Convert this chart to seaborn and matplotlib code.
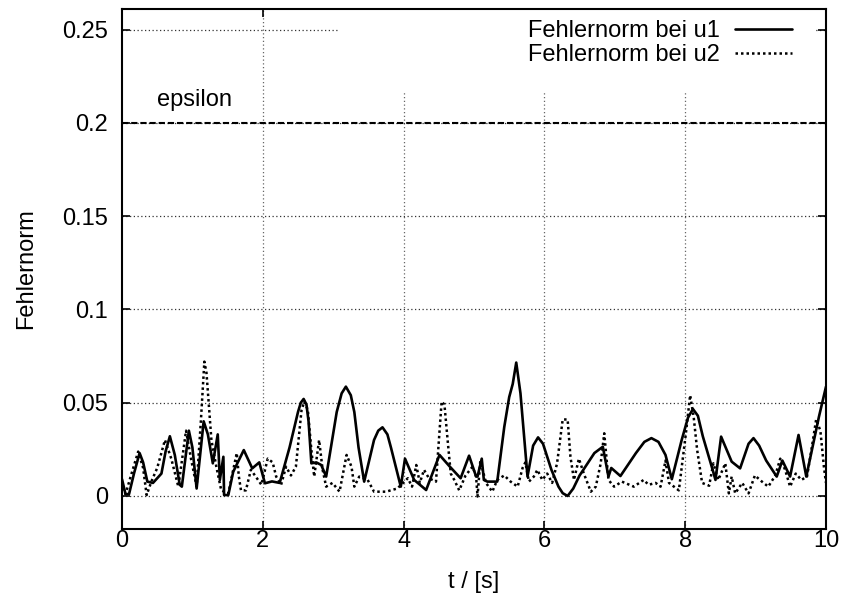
import matplotlib
matplotlib.use("Agg")
import matplotlib.pyplot as plt
from matplotlib.patches import Rectangle
import numpy as np
import pandas as pd
import seaborn as sns

# ---------------- data ----------------
t_u1 = [0.0, 0.05, 0.1, 0.17, 0.25, 0.3, 0.36, 0.44, 0.56, 0.62, 0.68, 0.75, 0.82, 0.85,
        0.95, 1.0, 1.06, 1.16, 1.22, 1.29, 1.36, 1.39, 1.44, 1.45, 1.51, 1.58, 1.73, 1.85,
        1.95, 2.03, 2.13, 2.24, 2.38, 2.5, 2.54, 2.58, 2.62, 2.65, 2.69, 2.76, 2.83, 2.9,
        3.05, 3.12, 3.18, 3.25, 3.3, 3.36, 3.44, 3.58, 3.64, 3.7, 3.77, 3.82, 3.96, 4.02,
        4.15, 4.32, 4.51, 4.65, 4.81, 4.93, 5.03, 5.05, 5.11, 5.14, 5.19, 5.33, 5.43, 5.5,
        5.55, 5.6, 5.66, 5.76, 5.84, 5.91, 5.98, 6.1, 6.2, 6.26, 6.33, 6.41, 6.5, 6.71,
        6.83, 6.91, 6.95, 7.08, 7.3, 7.42, 7.52, 7.62, 7.72, 7.81, 7.95, 8.04, 8.11, 8.18,
        8.25, 8.39, 8.43, 8.51, 8.66, 8.78, 8.9, 8.97, 9.05, 9.15, 9.3, 9.38, 9.49, 9.61,
        9.72, 9.9, 10.0]
e_u1 = [0.009, 0.001, 0.001, 0.012, 0.023, 0.018, 0.0077, 0.007, 0.012, 0.024, 0.032, 0.022,
        0.006, 0.005, 0.035, 0.026, 0.004, 0.040, 0.033, 0.0175, 0.033, 0.0086, 0.021, 0.0005,
        0.0005, 0.013, 0.0246, 0.0148, 0.018, 0.0068, 0.0078, 0.007, 0.026, 0.045, 0.050,
        0.052, 0.049, 0.040, 0.0175, 0.018, 0.0166, 0.0104, 0.045, 0.055, 0.0586, 0.054,
        0.045, 0.026, 0.0077, 0.030, 0.035, 0.0368, 0.033, 0.026, 0.005, 0.020, 0.0086,
        0.0032, 0.022, 0.016, 0.0095, 0.0216, 0.0104, 0.0104, 0.020, 0.0086, 0.0077, 0.0077,
        0.037, 0.053, 0.060, 0.0715, 0.055, 0.0104, 0.027, 0.0314, 0.028, 0.014, 0.005,
        0.0015, 0.0, 0.004, 0.011, 0.023, 0.0264, 0.0104, 0.015, 0.0107, 0.023, 0.029,
        0.031, 0.029, 0.022, 0.009, 0.030, 0.042, 0.0466, 0.043, 0.032, 0.014, 0.0086,
        0.0318, 0.0184, 0.0148, 0.028, 0.031, 0.027, 0.019, 0.0104, 0.019, 0.0104, 0.0327,
        0.0104, 0.0425, 0.0586]

t_u2 = [0.0, 0.05, 0.12, 0.23, 0.3, 0.35, 0.42, 0.5, 0.61, 0.7, 0.8, 0.91, 0.98, 1.06, 1.12,
        1.17, 1.2, 1.27, 1.34, 1.41, 1.51, 1.63, 1.66, 1.69, 1.76, 1.83, 1.9, 1.98, 2.07,
        2.14, 2.19, 2.26, 2.33, 2.4, 2.47, 2.55, 2.59, 2.64, 2.69, 2.73, 2.8, 2.85, 2.9,
        2.99, 3.09, 3.19, 3.26, 3.3, 3.37, 3.49, 3.58, 3.75, 3.91, 4.06, 4.12, 4.18, 4.23,
        4.29, 4.36, 4.46, 4.54, 4.58, 4.63, 4.67, 4.72, 4.79, 4.88, 4.98, 5.03, 5.05, 5.09,
        5.17, 5.26, 5.33, 5.43, 5.52, 5.62, 5.69, 5.73, 5.78, 5.85, 5.9, 5.97, 6.04, 6.11,
        6.18, 6.26, 6.33, 6.37, 6.42, 6.49, 6.56, 6.66, 6.73, 6.8, 6.85, 6.91, 6.99, 7.1,
        7.27, 7.41, 7.48, 7.58, 7.65, 7.72, 7.77, 7.84, 7.91, 8.01, 8.07, 8.12, 8.17, 8.24,
        8.34, 8.4, 8.47, 8.57, 8.62, 8.66, 8.71, 8.81, 8.9, 8.99, 9.09, 9.18, 9.28, 9.35,
        9.42, 9.49, 9.57, 9.65, 9.73, 9.8, 9.86, 9.92, 9.97, 10.0]
e_u2 = [0.004, 0.001, 0.01, 0.0238, 0.015, 0.0005, 0.008, 0.015, 0.030, 0.02, 0.005, 0.035,
        0.02, 0.005, 0.04, 0.072, 0.066, 0.030, 0.0157, 0.003, 0.0014, 0.023, 0.0104, 0.003,
        0.003, 0.014, 0.0104, 0.006, 0.020, 0.018, 0.0104, 0.006, 0.0157, 0.011, 0.0157,
        0.046, 0.0506, 0.046, 0.0246, 0.0104, 0.030, 0.014, 0.005, 0.007, 0.0023, 0.022,
        0.0157, 0.005, 0.0104, 0.0086, 0.0023, 0.0023, 0.004, 0.0095, 0.005, 0.0166, 0.007,
        0.014, 0.0095, 0.0077, 0.0506, 0.049, 0.028, 0.012, 0.0086, 0.003, 0.011, 0.0157,
        0.0104, -0.0003, 0.019, 0.007, 0.0023, 0.0086, 0.011, 0.0077, 0.005, 0.015, 0.018,
        0.0077, 0.0104, 0.014, 0.0086, 0.012, 0.007, 0.0175, 0.041, 0.041, 0.021, 0.0086,
        0.020, 0.012, 0.0023, 0.005, 0.0175, 0.0336, 0.0086, 0.005, 0.0077, 0.005, 0.0086,
        0.006, 0.007, 0.005, 0.019, 0.007, 0.005, 0.003, 0.0336, 0.054, 0.0425, 0.0246,
        0.007, 0.0055, 0.0175, 0.0086, 0.0175, 0.0014, 0.0104, 0.0014, 0.007, 0.0014, 0.011,
        0.0077, 0.005, 0.011, 0.020, 0.014, 0.005, 0.012, 0.0086, 0.0104, 0.0264, 0.041,
        0.035, 0.0157, 0.007]

epsilon = 0.2
epsilon_label = "epsilon"
series_labels = ["Fehlernorm bei u1", "Fehlernorm bei u2"]
x_ticks = [0, 2, 4, 6, 8, 10]
x_tick_labels = ["0", "2", "4", "6", "8", "10"]
y_ticks = [0, 0.05, 0.1, 0.15, 0.2, 0.25]
y_tick_labels = ["0", "0.05", "0.1", "0.15", "0.2", "0.25"]

# ---------------- style ----------------
sns.set_theme(style="white")
plt.rcParams["font.family"] = ["Liberation Sans", "DejaVu Sans"]
plt.rcParams["text.color"] = "black"
plt.rcParams["axes.labelcolor"] = "black"
plt.rcParams["xtick.color"] = "black"
plt.rcParams["ytick.color"] = "black"
FS = 17

fig = plt.figure(figsize=(8.44, 5.93), dpi=100)
ax = fig.add_axes([122 / 844, 1 - 529 / 593, (826 - 122) / 844, (529 - 9) / 593])
ax.set_facecolor("white")

df1 = pd.DataFrame({"t": t_u1, "e": e_u1})
df2 = pd.DataFrame({"t": t_u2, "e": e_u2})

sns.lineplot(data=df1, x="t", y="e", ax=ax, color="black", linewidth=1.9,
             label=series_labels[0], zorder=3, sort=False)
sns.lineplot(data=df2, x="t", y="e", ax=ax, color="black", linewidth=1.8,
             linestyle=(0, (1, 1.2)), label=series_labels[1], zorder=3, sort=False)

ax.axhline(epsilon, color="black", linewidth=1.5, linestyle=(0, (3, 1.4)), zorder=3)
ax.text(0.5, epsilon + 0.012, epsilon_label, fontsize=FS, va="center", ha="left",
        color="black", zorder=4)

ax.set_xlim(0, 10)
ax.set_ylim(-0.0177, 0.261)
ax.set_xticks(x_ticks)
ax.set_xticklabels(x_tick_labels)
ax.set_yticks(y_ticks)
ax.set_yticklabels(y_tick_labels)

# grid drawn from tick positions, kept below a white key area
for xv in x_ticks[1:-1]:
    ax.axvline(xv, color="#666666", linewidth=0.9, linestyle=(0, (1, 2)), zorder=0.3)
for yv in y_ticks:
    ax.axhline(yv, color="#333333", linewidth=0.9, linestyle=(0, (1, 2)), zorder=0.3)
ax.add_patch(Rectangle((0.3097, 0.838), 0.983 - 0.3097, 0.162, transform=ax.transAxes,
                       facecolor="white", edgecolor="none", zorder=0.6))

ax.tick_params(axis="both", which="both", direction="in", length=5.5, width=1.2,
               top=True, right=True, bottom=True, left=True, labelsize=FS,
               color="black", labelcolor="black")
ax.tick_params(axis="x", pad=1)
ax.tick_params(axis="y", pad=10)
for s in ax.spines.values():
    s.set_visible(True)
    s.set_color("black")
    s.set_linewidth(1.5)
    s.set_zorder(5)

ax.set_xlabel("t / [s]", fontsize=FS, color="black")
ax.set_ylabel("Fehlernorm", fontsize=FS, color="black")
ax.xaxis.set_label_coords(0.5, -0.08)
ax.yaxis.set_label_coords(-0.121, 0.5)

leg = ax.legend(loc="upper right", bbox_to_anchor=(0.951, 0.978), frameon=False,
                markerfirst=False, fontsize=FS, handlelength=2.4, handletextpad=0.65,
                labelspacing=0.06, borderpad=0, borderaxespad=0)
for line in leg.get_lines():
    line.set_color("black")
for txt in leg.get_texts():
    txt.set_color("black")

fig.savefig("out.png", dpi=100, facecolor="white")
